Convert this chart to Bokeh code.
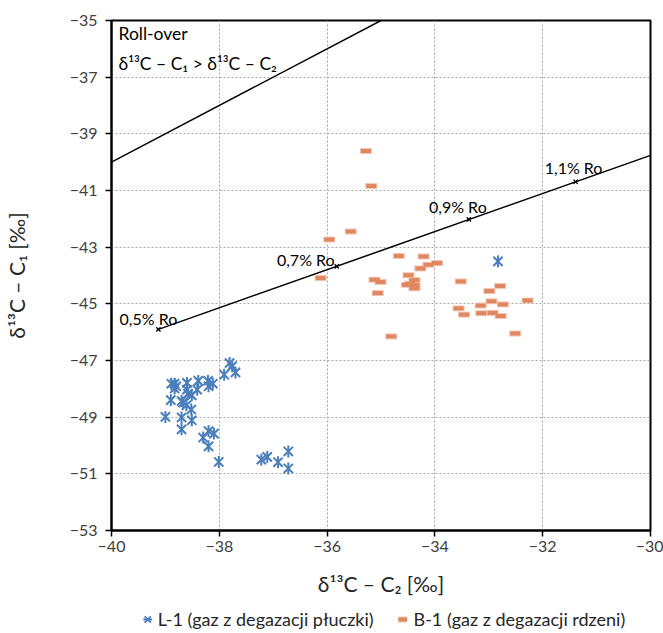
import math
from bokeh.plotting import figure
from bokeh.layouts import column
from bokeh.models import Range1d, Legend, LegendItem, ColumnDataSource, FixedTicker, Label
from bokeh.embed import file_html
from bokeh.resources import INLINE
from bokeh.core.properties import value

# ---- data ----
l1_c2 = [-37.81, -37.76, -37.70, -37.91, -38.89, -38.83, -38.80, -38.83, -38.60, -38.60,
         -38.58, -38.39, -38.41, -38.51, -38.21, -38.20, -38.12, -38.90, -38.70, -38.67,
         -38.61, -38.52, -39.00, -38.70, -38.51, -38.70, -38.20, -38.30, -38.10, -38.20,
         -38.01, -37.22, -37.11, -36.91, -36.72, -36.72, -32.83]
l1_c1 = [-47.09, -47.20, -47.42, -47.50, -47.82, -47.82, -47.91, -47.99, -47.79, -48.03,
         -48.17, -47.72, -48.03, -48.23, -47.72, -47.91, -47.82, -48.40, -48.43, -48.49,
         -48.58, -48.73, -48.99, -49.01, -49.11, -49.43, -49.49, -49.72, -49.58, -50.03,
         -50.58, -50.50, -50.40, -50.59, -50.21, -50.81, -43.50]

b1_c2 = [-35.28, -35.18, -35.56, -35.96, -36.12, -34.67, -35.12, -35.01, -35.06, -34.49,
         -34.38, -34.52, -34.46, -34.38, -34.38, -34.27, -34.81, -34.21, -34.12, -33.96,
         -33.52, -32.79, -32.99, -32.95, -32.74, -32.28, -33.15, -33.56, -33.46, -33.14,
         -32.93, -32.78, -32.51]
b1_c1 = [-39.61, -40.84, -42.45, -42.73, -44.09, -43.31, -44.15, -44.23, -44.62, -43.99,
         -44.16, -44.33, -44.29, -44.33, -44.45, -43.75, -46.15, -43.33, -43.62, -43.56,
         -44.21, -44.37, -44.55, -44.91, -45.02, -44.88, -45.06, -45.16, -45.38, -45.33,
         -45.32, -45.43, -46.05]

ro_labels = ["0,5% Ro", "0,7% Ro", "0,9% Ro", "1,1% Ro"]
ro_c2 = [-39.13, -35.82, -33.37, -31.39]
ro_c1 = [-45.90, -43.68, -42.02, -40.69]
ro_line_c2 = [-39.13, -30.0]
ro_line_c1 = [-45.90, -39.76]

rollover_c2 = [-40.0, -35.0]
rollover_c1 = [-40.0, -35.0]

x_ticks = [-40, -38, -36, -34, -32, -30]
y_ticks = [-35, -37, -39, -41, -43, -45, -47, -49, -51, -53]

series_names = ["L-1 (gaz z degazacji płuczki)", "B-1 (gaz z degazacji rdzeni)"]

FONT = "Lato"
BLUE = "#4A7EBB"
ORANGE = "#DE8760"
ORANGE_HALO = "#F3C7B3"

p = figure(width=663, height=605, x_range=Range1d(-40, -30), y_range=Range1d(-53, -35),
           output_backend="svg", toolbar_location=None,
           min_border_left=110, min_border_right=13, min_border_top=20, min_border_bottom=75)
p.background_fill_color = "white"
p.border_fill_color = "white"
p.outline_line_color = "black"
p.outline_line_width = 2

for ax in (p.xaxis[0], p.yaxis[0]):
    ax.axis_line_color = "black"
    ax.axis_line_width = 2
    ax.major_tick_line_color = "black"
    ax.major_tick_line_width = 1.5
    ax.major_tick_out = 6
    ax.major_tick_in = 0
    ax.minor_tick_out = 0
    ax.minor_tick_in = 0
    ax.major_label_text_font = FONT
    ax.major_label_text_font_size = "16px"
    ax.major_label_text_color = "#404040"
    ax.axis_label_text_font = FONT
    ax.axis_label_text_font_size = "21px"
    ax.axis_label_text_font_style = "normal"
    ax.axis_label_text_color = "#262626"

p.xaxis.ticker = FixedTicker(ticks=x_ticks)
p.yaxis.ticker = FixedTicker(ticks=y_ticks)
p.xaxis.axis_label = "δ¹³C – C₂ [‰]"
p.yaxis.axis_label = "δ¹³C – C₁ [‰]"
p.xaxis.major_label_standoff = 4
p.xaxis.axis_label_standoff = 16
p.yaxis.major_label_standoff = 8
p.yaxis.axis_label_standoff = 38

for g in (p.xgrid[0], p.ygrid[0]):
    g.grid_line_color = "#A6A6A6"
    g.grid_line_dash = "2 2"
    g.grid_line_width = 1

p.line(rollover_c2, rollover_c1, line_color="black", line_width=1.5)
p.line(ro_line_c2, ro_line_c1, line_color="black", line_width=1.5)
p.scatter(ro_c2, ro_c1, marker="x", size=6, line_color="black", line_width=1.3)

ro_src = ColumnDataSource(dict(x=ro_c2, y=ro_c1, t=ro_labels,
                               dx=[-10, -31, -11, -2], dy=[-11, -7, -13, -14]))
p.text(x="x", y="y", text="t", x_offset="dx", y_offset="dy", source=ro_src,
       text_font=value(FONT), text_font_size="16px", text_color="#000000",
       text_align="center", text_baseline="middle")

b_src = ColumnDataSource(dict(x=b1_c2, y=b1_c1))
p.scatter("x", "y", source=b_src, marker="dash", size=12, line_width=6, line_color=ORANGE_HALO)
p.scatter("x", "y", source=b_src, marker="dash", size=10, line_width=4, line_color=ORANGE)

l_src = ColumnDataSource(dict(x=l1_c2, y=l1_c1))
p.scatter("x", "y", source=l_src, marker="x", size=13, line_width=2, line_color=BLUE)
p.scatter("x", "y", source=l_src, marker="dash", angle=math.pi / 2, size=12,
          line_width=2, line_color=BLUE)

p.add_layout(Label(x=-39.87, y=-35.46, text="Roll-over", text_font=FONT, text_font_size="17.5px",
                   text_baseline="middle", text_color="#000000"))
p.add_layout(Label(x=-39.87, y=-36.50, text="δ¹³C – C₁ > δ¹³C – C₂", text_font=FONT,
                   text_font_size="17.5px", text_baseline="middle", text_color="#000000"))

# ---- legend strip (its renderers share the data but lie outside its ranges) ----
q = figure(width=663, height=28, x_range=Range1d(0, 1), y_range=Range1d(0, 1),
           output_backend="svg", toolbar_location=None,
           min_border_left=80, min_border_right=13, min_border_top=0, min_border_bottom=0)
q.axis.visible = False
q.grid.visible = False
q.outline_line_color = None
q.border_fill_color = "white"
ql0 = q.scatter("x", "y", source=l_src, marker="x", size=13, line_width=1.8, line_color=BLUE)
ql1 = q.scatter("x", "y", source=l_src, marker="dash", angle=math.pi / 2, size=12,
                line_width=1.8, line_color=BLUE)
qb0 = q.scatter("x", "y", source=b_src, marker="dash", size=12, line_width=6, line_color=ORANGE_HALO)
qb1 = q.scatter("x", "y", source=b_src, marker="dash", size=10, line_width=4, line_color=ORANGE)

legend = Legend(items=[
    LegendItem(label=series_names[0], renderers=[ql0, ql1]),
    LegendItem(label=series_names[1], renderers=[qb0, qb1]),
], orientation="horizontal", location="center")
legend.label_text_font = FONT
legend.label_text_font_size = "18px"
legend.label_text_color = "#262626"
legend.border_line_color = None
legend.background_fill_alpha = 0
legend.padding = 0
legend.margin = 0
legend.spacing = 18
legend.glyph_width = 22
legend.glyph_height = 22
legend.label_standoff = 0
q.add_layout(legend)

layout = column(p, q, spacing=0)
open("out.html", "w").write(file_html(layout, INLINE))
